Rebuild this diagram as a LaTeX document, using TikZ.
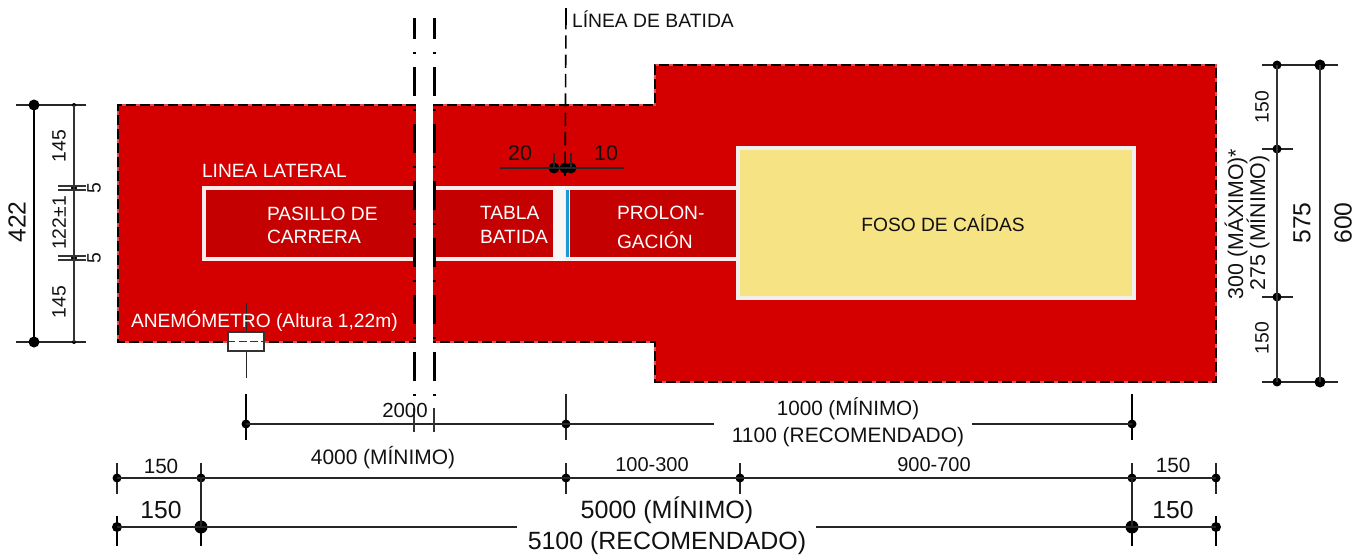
\documentclass[tikz,border=0pt]{standalone}
\usepackage{fontspec}
\setmainfont{Liberation Sans}
\definecolor{pitred}{HTML}{D40000}
\definecolor{laneRed}{HTML}{C40000}
\definecolor{sand}{HTML}{F6E384}
\definecolor{offwhite}{HTML}{F2EFEC}
\definecolor{boardblue}{HTML}{1C9AD6}
\definecolor{ink}{HTML}{111111}
\tikzset{
  x=0.75pt,y=-0.75pt,
  lbl/.style={inner sep=0pt,outer sep=0pt,text=ink,font=\fontsize{#1}{#1}\selectfont},
  wlbl/.style={inner sep=0pt,outer sep=0pt,text=white,font=\fontsize{#1}{#1}\selectfont},
  wblock/.style={wlbl=#1,align=left,anchor=west},
  dot/.style={circle,fill=black,inner sep=0pt,minimum size=#1*0.75pt},
  rededge/.style={line width=1.1pt,pitred!70!white},
  edgeline/.style={line width=1.1pt,black,dash pattern=on 7.5pt off 3pt},
  thinline/.style={line width=0.9pt,black!80},
  midline/.style={line width=1.3pt,black!85},
  boldline/.style={line width=2.1pt,black},
  breakline/.style={line width=2.2pt,black,dash pattern=on 21.75pt off 9.75pt on 1.5pt off 9.75pt},
  axisline/.style={line width=1.2pt,black,dash pattern=on 10pt off 4.5pt},
}
\begin{document}
\begin{tikzpicture}
\useasboundingbox (0,0) rectangle (1368,560);

% ---- red area
\fill[pitred] (118,105) rectangle (416,342);
\fill[pitred] (433,105) -- (655,105) -- (655,65) -- (1216,65) -- (1216,382) -- (655,382) -- (655,342) -- (433,342) -- cycle;
\draw[rededge] (416,105) -- (118,105) -- (118,342) -- (416,342);
\draw[rededge] (433,105) -- (655,105) -- (655,65) -- (1216,65) -- (1216,382) -- (655,382) -- (655,342) -- (433,342);
\draw[edgeline] (416,105) -- (118,105) -- (118,342) -- (416,342);
\draw[edgeline] (433,105) -- (655,105) -- (655,65) -- (1216,65) -- (1216,382) -- (655,382) -- (655,342) -- (433,342);

% ---- runway
\fill[white!92!pitred] (202,186) rectangle (416,261);
\fill[white!92!pitred] (433,186) rectangle (740,261);
\fill[laneRed] (206,190) rectangle (416,257);
\fill[laneRed] (433,190) rectangle (553,257);
\fill[offwhite!50!white] (553,186) rectangle (565,261);
\fill[boardblue] (566,190) rectangle (569,257);
\fill[laneRed] (570,190) rectangle (736,257);

% ---- pit
\fill[offwhite] (736,146) rectangle (1136,300);
\fill[sand] (740,150) rectangle (1132,296);

% ---- interrupted run-up
\coordinate (brkA1) at (414.5,18); \coordinate (brkA2) at (414.5,396);
\coordinate (brkB1) at (434.5,18); \coordinate (brkB2) at (434.5,396);
\draw[breakline,dash phase=6pt] (brkA1) -- (brkA2);
\draw[breakline,dash phase=6pt] (brkB1) -- (brkB2);

% ---- take-off line
\coordinate (takeTop) at (566,8); \coordinate (takeMid) at (566,16); \coordinate (takeEnd) at (565,176);
\draw[line width=1.8pt,black] (takeTop) -- (takeMid);
\draw[axisline] (takeMid) -- (takeEnd);
\node[lbl=14.5,anchor=west] (takeLbl) at (572,19) {LÍNEA DE BATIDA};

% ---- 20 / 10 mini-dimension
\coordinate (mL) at (500,168); \coordinate (mR) at (624,168);
\coordinate (tA) at (554,153); \coordinate (tB) at (571,153);
\node[dot=11] (dA) at (554,168) {};
\node[dot=11] (dB) at (565,168) {};
\node[dot=11] (dC) at (571,168) {};
\draw[midline] (mL) -- (mR);
\draw[midline] (tA) -- (dA.center);
\draw[midline] (tB) -- (dC.center);
\node[lbl=16] (n20) at (520,153) {20};
\node[lbl=16] (n10) at (606,153) {10};

% ---- labels in the field
\node[wlbl=14.4,anchor=west] (latLbl) at (202,171) {LINEA LATERAL};
\node[wblock=14.4] (pasA) at (267,214) {PASILLO DE};
\node[wblock=14.4] (pasB) at (267,237) {CARRERA};
\node[wblock=14.4] (tabA) at (480,213) {TABLA};
\node[wblock=14.4] (tabB) at (480,237) {BATIDA};
\node[wblock=14.4] (proA) at (617,213) {PROLON-};
\node[wblock=14.4] (proB) at (617,240) {GACIÓN};
\node[lbl=14.4] (foso) at (943,223) {FOSO DE CAÍDAS};

% ---- anemometer
\coordinate (anTop) at (246.5,303); \coordinate (anBot) at (246.5,378);
\draw[midline] (anTop) -- (anBot);
\node[wlbl=14.4,anchor=west] (anLbl) at (131,321) {ANEMÓMETRO (Altura 1,22m)};
\node[draw=black!80,line width=0.9pt,fill=white,minimum width=27pt,minimum height=14.25pt,inner sep=0pt] (anBox) at (246,341.5) {};
\draw[line width=0.9pt,black!80,dash pattern=on 6pt off 2.5pt] (anBox.west) -- (anBox.east);

% ---- left dimensions
\coordinate (lTopL) at (16,105); \coordinate (lTopR) at (86,105);
\coordinate (lBotL) at (16,342); \coordinate (lBotR) at (86,342);
\draw[midline] (lTopL) -- (lTopR);
\draw[midline] (lBotL) -- (lBotR);
\node[dot=11] (l1) at (34,105) {};
\node[dot=11] (l2) at (34,342) {};
\draw[boldline] (l1.center) -- (l2.center);
\node[dot=4] (l3) at (74,105) {};
\node[dot=4] (l4) at (74,342) {};
\node[dot=6] (l5) at (74,188) {};
\node[dot=6] (l6) at (74,258) {};
\draw[thinline] (l3.center) -- (l4.center);
\foreach \yy/\nm in {186/a,190/b,256/c,260/d}{
  \coordinate (dbl\nm L) at (58,\yy); \coordinate (dbl\nm R) at (86,\yy);
  \draw[thinline] (dbl\nm L) -- (dbl\nm R);
}
\node[lbl=18.5,rotate=90] (t422) at (17,222) {422};
\node[lbl=14.5,rotate=90] (t145a) at (59,146) {145};
\node[lbl=14.5,rotate=90] (t145b) at (59,302) {145};
\node[lbl=14.5,rotate=90] (t122) at (59,223) {122±1};
\node[lbl=14.5,rotate=90] (t5a) at (94,188) {5};
\node[lbl=14.5,rotate=90] (t5b) at (94,258) {5};

% ---- right dimensions
\coordinate (rTopL) at (1262,65); \coordinate (rTopR) at (1338,65);
\coordinate (rBotL) at (1262,382); \coordinate (rBotR) at (1338,382);
\coordinate (rAL) at (1262,149); \coordinate (rAR) at (1293,149);
\coordinate (rBL) at (1262,297); \coordinate (rBR) at (1293,297);
\draw[midline] (rTopL) -- (rTopR);
\draw[midline] (rBotL) -- (rBotR);
\draw[midline] (rAL) -- (rAR);
\draw[midline] (rBL) -- (rBR);
\node[dot=9] (r1) at (1277,65) {};
\node[dot=11] (r2) at (1320,65) {};
\node[dot=9] (r3) at (1277,149) {};
\node[dot=9] (r4) at (1277,297) {};
\node[dot=9] (r5) at (1277,382) {};
\node[dot=11] (r6) at (1320,382) {};
\draw[thinline] (r1.center) -- (r5.center);
\draw[thinline] (r2.center) -- (r6.center);
\node[lbl=14.5,rotate=90] (t150a) at (1262,107) {150};
\node[lbl=14.5,rotate=90] (t150b) at (1262,338) {150};
\node[lbl=18.5,rotate=90] (t575) at (1302,223) {575};
\node[lbl=18.5,rotate=90] (t600) at (1343,223) {600};
\node[lbl=16,rotate=90] (t300) at (1236,224) {300 (MÁXIMO)*};
\node[lbl=16,rotate=90] (t275) at (1258,223) {275 (MÍNIMO)};

% ---- bottom row 1
\foreach \xx/\nm/\st in {246/a/boldline,566/b/midline,1132/c/boldline}{
  \coordinate (ra\nm T) at (\xx,394); \coordinate (ra\nm B) at (\xx,440);
  \draw[\st] (ra\nm T) -- (ra\nm B);
  \node[dot=9] (ra\nm) at (\xx,424) {};
}
\coordinate (raGapL) at (714,424); \coordinate (raGapR) at (972,424);
\draw[midline] (raa.center) -- (raGapL);
\draw[midline] (raGapR) -- (rac.center);
\coordinate (kA1) at (414,408); \coordinate (kA2) at (414,432);
\coordinate (kB1) at (434,408); \coordinate (kB2) at (434,432);
\draw[thinline] (kA1) -- (kA2);
\draw[thinline] (kB1) -- (kB2);
\node[lbl=15.3] (t2000) at (405,410) {2000};
\node[lbl=15.5] (t1000) at (848,409) {1000 (MÍNIMO)};
\node[lbl=15.7] (t1100) at (848,437) {1100 (RECOMENDADO)};

% ---- bottom row 2
\foreach \xx/\nm in {117/a,201/b,566/c,740/d,1132/e,1216/f}{
  \coordinate (rb\nm T) at (\xx,463); \coordinate (rb\nm B) at (\xx,494);
  \draw[midline] (rb\nm T) -- (rb\nm B);
  \node[dot=9] (rb\nm) at (\xx,478) {};
}
\draw[midline] (rba.center) -- (rbf.center);
\node[lbl=15.5] (t150c) at (161,466) {150};
\node[lbl=15.7] (t4000) at (383,458) {4000 (MÍNIMO)};
\node[lbl=15] (t100) at (652,465) {100-300};
\node[lbl=15] (t900) at (934,465) {900-700};
\node[lbl=15.5] (t150d) at (1173,465) {150};

% ---- bottom row 3
\foreach \xx/\nm/\sz in {117/a/10,201/b/13,1132/c/13,1216/d/10}{
  \coordinate (rc\nm T) at (\xx,516); \coordinate (rc\nm B) at (\xx,546);
  \draw[boldline] (rc\nm T) -- (rc\nm B);
  \node[dot=\sz] (rc\nm) at (\xx,527) {};
}
\coordinate (rcGapL) at (517,527); \coordinate (rcGapR) at (816,527);
\draw[midline] (rca.center) -- (rcGapL);
\draw[midline] (rcGapR) -- (rcd.center);
\draw[midline] (rbb.center) -- (rcb.center);
\draw[midline] (rbe.center) -- (rcc.center);
\node[lbl=18.5] (t150e) at (161,510) {150};
\node[lbl=18.5] (t150f) at (1173,510) {150};
\node[lbl=18.8] (t5000) at (667,510) {5000 (MÍNIMO)};
\node[lbl=18.7] (t5100) at (667,543) {5100 (RECOMENDADO)};
\end{tikzpicture}
\end{document}
